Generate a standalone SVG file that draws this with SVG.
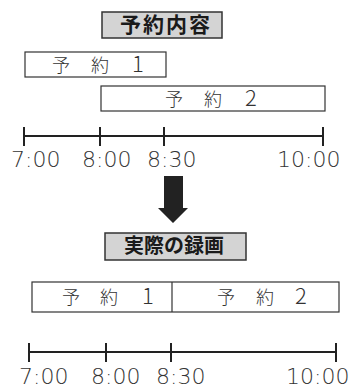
<svg xmlns="http://www.w3.org/2000/svg" width="350" height="385" viewBox="0 0 350 385">
<style>
.bg{fill:#ffffff}
.lbl{fill:#d4d4d4;stroke:#333;stroke-width:1.5}
.box{fill:#fff;stroke:#333;stroke-width:1.2}
.ht{font-family:"Noto Sans CJK JP","Noto Sans",sans-serif;font-weight:bold;fill:#1a1a1a;text-anchor:middle}
.jt{font-family:"Noto Sans CJK JP","Noto Sans",sans-serif;font-size:18px;font-weight:300;fill:#333}
.d{font-size:22px}
.tl{stroke:#222;stroke-width:2;fill:none}
.tm{font-family:"DejaVu Sans","Liberation Sans",sans-serif;font-size:22px;font-weight:200;fill:#333}
</style>
<rect class="bg" x="0" y="0" width="350" height="385"/>
<g id="label-yoyaku">
<rect class="lbl" x="102" y="12" width="120" height="26"/>
<text class="ht" x="166" y="32" font-size="21" letter-spacing="2">予約内容</text>
</g>
<g id="reserve1">
<rect class="box" x="25" y="52" width="141" height="25"/>
<text class="jt" y="72"><tspan x="52">予</tspan><tspan x="91">約</tspan><tspan class="d" x="132">1</tspan></text>
</g>
<g id="reserve2">
<rect class="box" x="101" y="86" width="224" height="25"/>
<text class="jt" y="106"><tspan x="165">予</tspan><tspan x="204">約</tspan><tspan class="d" x="245">2</tspan></text>
</g>
<g id="timeline1">
<path class="tl" d="M24 136H323M24 127V146M100 127V146M164 127V146M323 127V146"/>
<text class="tm" x="11" y="167">7:00</text>
<text class="tm" x="82" y="167">8:00</text>
<text class="tm" x="147" y="167">8:30</text>
<text class="tm" x="277" y="167">10:00</text>
</g>
<g id="connectors">
<path d="M164 176H183V208H188L173 223L158 208H164Z" fill="#222"/>
</g>
<g id="label-jissai">
<rect class="lbl" x="105" y="233" width="141" height="27"/>
<text class="ht" x="174" y="253" font-size="20">実際の録画</text>
</g>
<g id="actual">
<rect class="box" x="32" y="282" width="307" height="30"/>
<path d="M172 282V312" stroke="#333" stroke-width="1.2"/>
<text class="jt" y="304"><tspan x="62">予</tspan><tspan x="100">約</tspan><tspan class="d" x="142">1</tspan></text>
<text class="jt" y="304"><tspan x="217">予</tspan><tspan x="256">約</tspan><tspan class="d" x="295">2</tspan></text>
</g>
<g id="timeline2">
<path class="tl" d="M29 352H336M29 343V362M106 343V362M171 343V362M336 343V362"/>
<text class="tm" x="19" y="384">7:00</text>
<text class="tm" x="91" y="384">8:00</text>
<text class="tm" x="156" y="384">8:30</text>
<text class="tm" x="286" y="384">10:00</text>
</g>
</svg>
